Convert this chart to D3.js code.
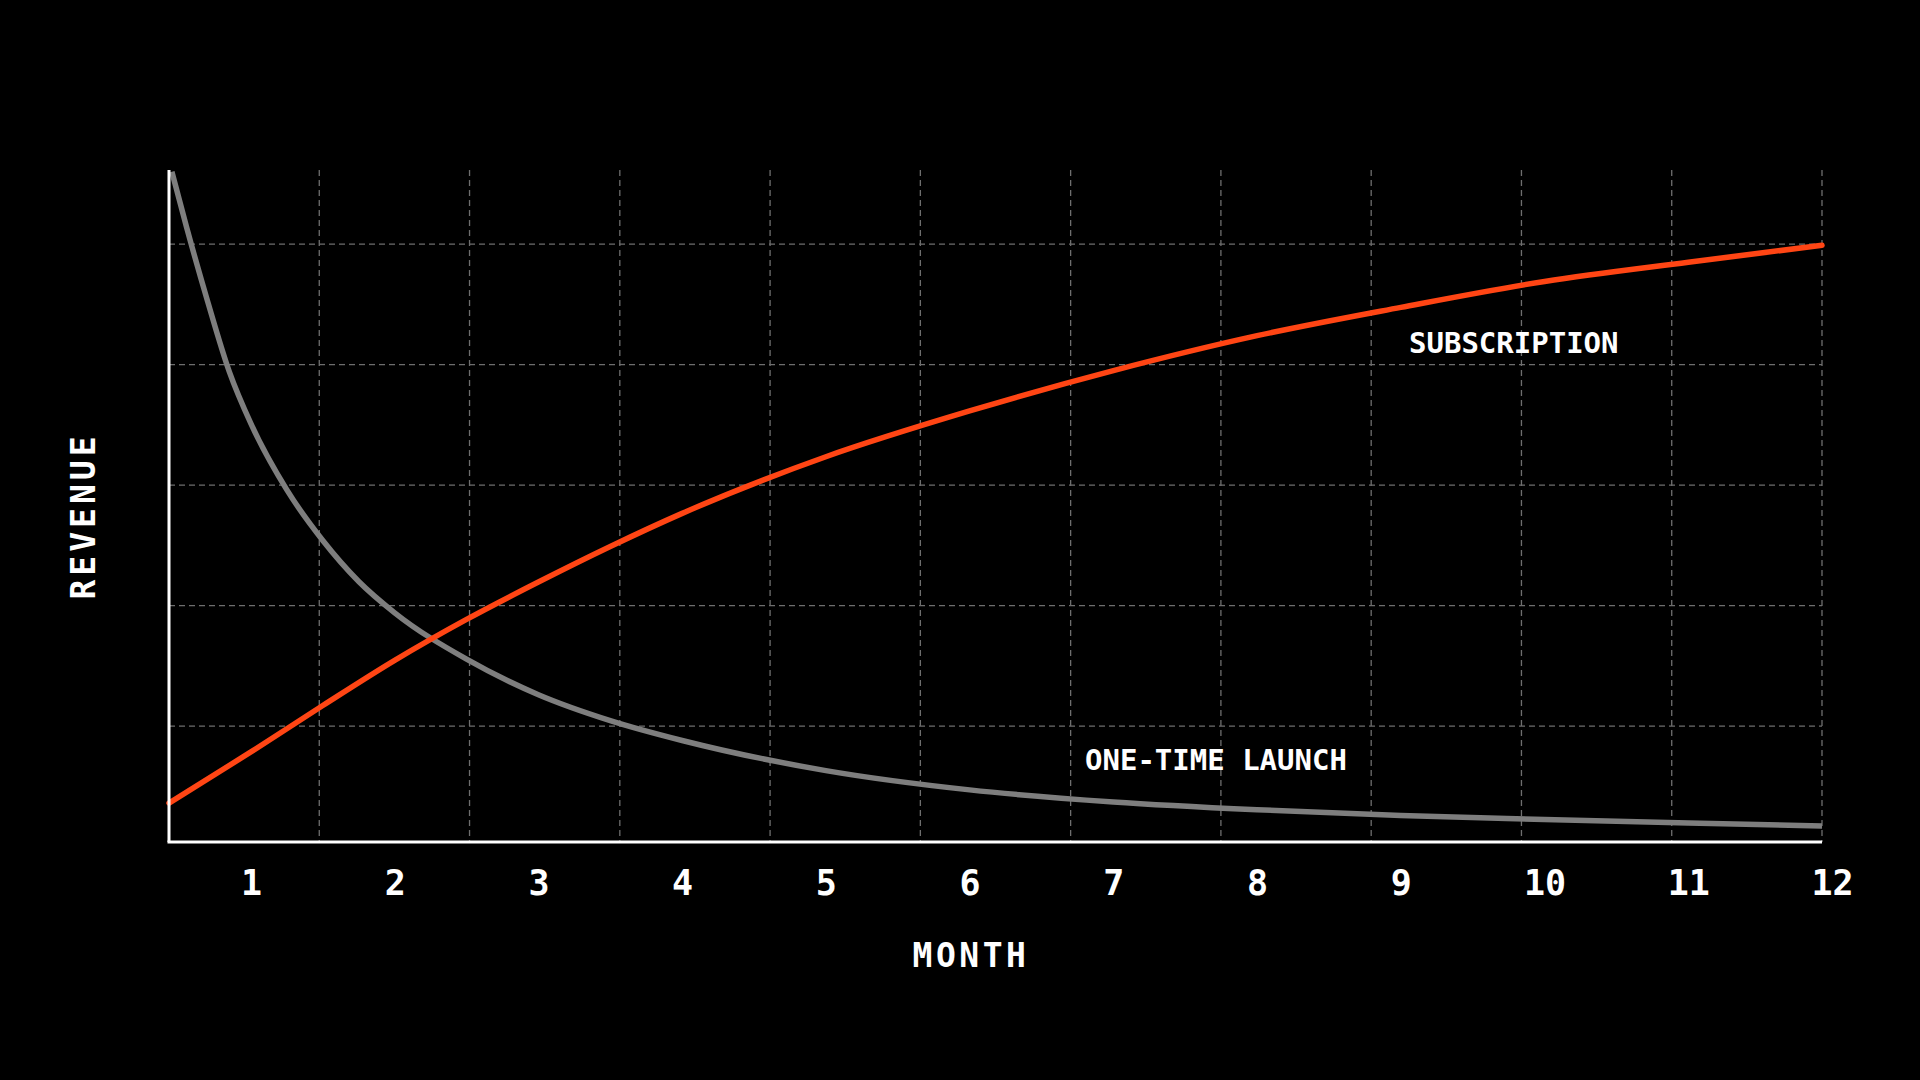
<!DOCTYPE html>
<html>
<head>
<meta charset="utf-8">
<script src="https://cdn.jsdelivr.net/npm/d3@7/dist/d3.min.js"></script>
<style>
    html, body { margin: 0; padding: 0; background: #000; }
    svg { display: block; }
</style>
</head>
<body>
<div id="chart"></div>
<script>
// Subscription vs one-time launch revenue

// month tick labels
const months = [1, 2, 3, 4, 5, 6, 7, 8, 9, 10, 11, 12];

// subscription curve (month, revenue)
const subMonths = [0.43, 1, 1.5, 2, 2.5, 3, 3.5, 4, 5, 6, 7, 8, 9, 10, 11, 11.93];
const subValues = [7.2, 15.7, 23.4, 30.9, 37.7, 43.9, 49.8, 55.3, 64.7, 72.3, 79.0, 84.8, 89.5, 93.8, 97.0, 99.8];

// one-time launch curve (month, revenue)
const oneMonths = [0.45, 0.55, 0.7, 0.85, 1, 1.25, 1.5, 1.75, 2, 2.5, 3, 3.5, 4, 5, 6, 7, 8, 9, 10, 11, 11.93];
const oneValues = [112, 103, 90.4, 78.8, 70.2, 59.2, 50.8, 44.0, 38.8, 31.1, 25.2, 20.9, 17.6, 12.6, 9.4, 7.4, 6.1, 5.15, 4.5, 3.9, 3.4];

// horizontal grid values
const gridValues = [20, 40, 60, 80, 100];
const gridColumns = 11;

const width = 1920;
const height = 1080;
const plot = { left: 169, right: 1822, top: 170, bottom: 842 };

const svg = d3.select('#chart').append('svg')
    .attr('width', width)
    .attr('height', height)
    .style('background', '#000');

const xScale = d3.scaleLinear()
    .domain([0.43, 11.93])
    .range([plot.left, plot.right]);

const yScale = d3.scaleLinear()
    .domain([0.75, 112.3])
    .range([plot.bottom, plot.top]);

// columns of the grid split the plot evenly
const gridX = d3.scaleLinear()
    .domain([0, gridColumns])
    .range(xScale.range());

const grid = svg.append('g').attr('class', 'grid');

grid.selectAll('.grid-v')
    .data(d3.range(1, gridColumns + 1))
    .enter()
    .append('line')
    .attr('class', 'grid-v')
    .attr('x1', d => gridX(d))
    .attr('x2', d => gridX(d))
    .attr('y1', plot.top)
    .attr('y2', plot.bottom)
    .style('stroke', '#6e6e6e')
    .style('stroke-width', 1.3)
    .style('stroke-dasharray', '6,4');

grid.selectAll('.grid-h')
    .data(gridValues)
    .enter()
    .append('line')
    .attr('class', 'grid-h')
    .attr('x1', plot.left)
    .attr('x2', plot.right)
    .attr('y1', d => yScale(d))
    .attr('y2', d => yScale(d))
    .style('stroke', '#6e6e6e')
    .style('stroke-width', 1.3)
    .style('stroke-dasharray', '6,4');

// curves
const line = d3.line()
    .x(d => xScale(d[0]))
    .y(d => yScale(d[1]))
    .curve(d3.curveMonotoneX);

const oneData = d3.zip(oneMonths, oneValues);
const subData = d3.zip(subMonths, subValues);

svg.append('path')
    .datum(oneData)
    .attr('d', line)
    .style('fill', 'none')
    .style('stroke', '#7e7e7e')
    .style('stroke-width', 5.5)
    .style('stroke-linecap', 'butt');

svg.append('path')
    .datum(subData)
    .attr('d', line)
    .style('fill', 'none')
    .style('stroke', '#ff4514')
    .style('stroke-width', 5.5)
    .style('stroke-linecap', 'round');

// axes
svg.append('line')
    .attr('x1', plot.left).attr('x2', plot.left)
    .attr('y1', plot.top).attr('y2', plot.bottom)
    .style('stroke', '#fff')
    .style('stroke-width', 3);

svg.append('line')
    .attr('x1', plot.left - 1.5).attr('x2', plot.right)
    .attr('y1', plot.bottom).attr('y2', plot.bottom)
    .style('stroke', '#fff')
    .style('stroke-width', 3);

const labelFont = '"DejaVu Sans Mono", monospace';

const xAxis = svg.append('g')
    .attr('transform', `translate(0,${plot.bottom})`)
    .call(d3.axisBottom(xScale).tickValues(months).tickSize(0).tickFormat(d3.format('d')));

xAxis.select('.domain').remove();
xAxis.selectAll('text')
    .attr('y', 53)
    .attr('dy', 0)
    .style('fill', '#fff')
    .style('font-family', labelFont)
    .style('font-weight', 'bold')
    .style('font-size', '35px');

// axis titles
svg.append('text')
    .attr('x', 971)
    .attr('y', 967)
    .attr('text-anchor', 'middle')
    .style('fill', '#fff')
    .style('font-family', labelFont)
    .style('font-weight', 'bold')
    .style('font-size', '33px')
    .style('letter-spacing', '3.5px')
    .text('MONTH');

svg.append('text')
    .attr('transform', 'translate(95,516) rotate(-90)')
    .attr('text-anchor', 'middle')
    .style('fill', '#fff')
    .style('font-family', labelFont)
    .style('font-weight', 'bold')
    .style('font-size', '33px')
    .style('letter-spacing', '4px')
    .text('REVENUE');

// series labels
svg.append('text')
    .attr('x', 1409)
    .attr('y', 353)
    .style('fill', '#fff')
    .style('font-family', labelFont)
    .style('font-weight', 'bold')
    .style('font-size', '29px')
    .text('SUBSCRIPTION');

svg.append('text')
    .attr('x', 1085)
    .attr('y', 770)
    .style('fill', '#fff')
    .style('font-family', labelFont)
    .style('font-weight', 'bold')
    .style('font-size', '29px')
    .text('ONE-TIME LAUNCH');
</script>
</body>
</html>
